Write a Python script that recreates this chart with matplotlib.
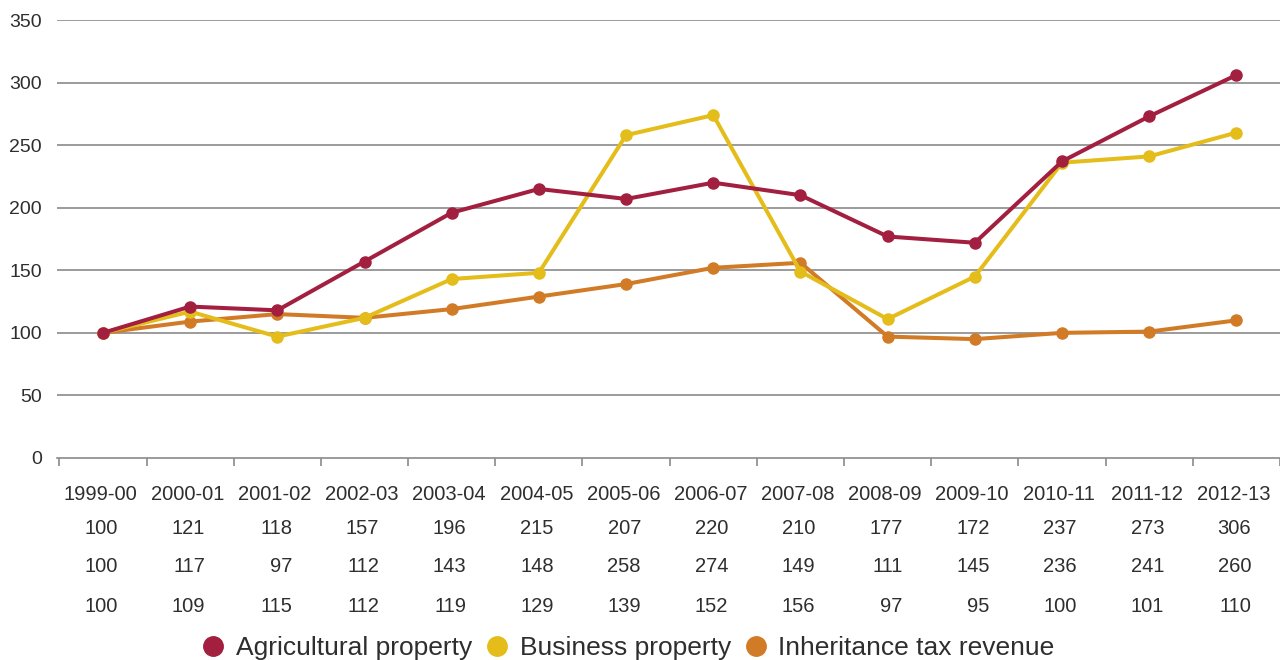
import matplotlib
matplotlib.use("Agg")
import matplotlib.pyplot as plt
from matplotlib.lines import Line2D

years = ["1999-00", "2000-01", "2001-02", "2002-03", "2003-04", "2004-05", "2005-06",
         "2006-07", "2007-08", "2008-09", "2009-10", "2010-11", "2011-12", "2012-13"]
agricultural = [100, 121, 118, 157, 196, 215, 207, 220, 210, 177, 172, 237, 273, 306]
business = [100, 117, 97, 112, 143, 148, 258, 274, 149, 111, 145, 236, 241, 260]
inheritance = [100, 109, 115, 112, 119, 129, 139, 152, 156, 97, 95, 100, 101, 110]
series_names = ["Agricultural property", "Business property", "Inheritance tax revenue"]
colors = ["#A31F40", "#E4BD1B", "#D27B27"]
yticks = [0, 50, 100, 150, 200, 250, 300, 350]

plt.rcParams['font.family'] = ['Liberation Sans', 'DejaVu Sans']
text_color = "#2e2e2e"

W, H = 1280, 660
fig = plt.figure(figsize=(W / 100, H / 100), dpi=100)
left, right, top, bottom = 57, 1280, 20, 458
ax = fig.add_axes([left / W, 1 - bottom / H, (right - left) / W, (bottom - top) / H])

n = len(years)
x = list(range(n))
for vals, c, z in [(inheritance, colors[2], 3), (business, colors[1], 4), (agricultural, colors[0], 5)]:
    ax.plot(x, vals, color=c, lw=2.9, marker='o', ms=8, zorder=z, solid_capstyle='round')

ax.set_xlim(-0.527, 13.49)
ax.set_ylim(0, 350)
ax.set_yticks(yticks)
ax.set_yticklabels([str(v) for v in yticks], fontsize=14, color=text_color)
ax.tick_params(axis='y', length=0, pad=11)
for v in yticks[1:]:
    ax.axhline(v, color="#8a8a8a", lw=1.2, zorder=1)
for s in ['top', 'right', 'left']:
    ax.spines[s].set_visible(False)
ax.spines['bottom'].set_color("#8a8a8a")
ax.spines['bottom'].set_linewidth(1.2)
ax.set_xticks([i - 0.5 for i in range(n + 1)])
ax.set_xticklabels([])
ax.tick_params(axis='x', direction='out', length=6, width=1.2, color="#8a8a8a")

tr = ax.get_xaxis_transform()
hpx = bottom - top
def ay(ypx):
    return (bottom - ypx) / hpx

for i, yr in enumerate(years):
    ax.text(i - 0.03, ay(495), yr, transform=tr, ha='center', va='center', fontsize=14.5, color=text_color)
rows = [(agricultural, 528), (business, 567), (inheritance, 606)]
for vals, ypx in rows:
    for i, v in enumerate(vals):
        ax.text(i + 0.17, ay(ypx), str(v), transform=tr, ha='right', va='center', fontsize=14.5, color=text_color)

handles = [Line2D([], [], ls='none', marker='o', ms=14, color=c) for c in colors]
leg = fig.legend(handles, series_names, loc='center', bbox_to_anchor=(626 / W, 1 - 648 / H),
                 ncol=3, frameon=False, fontsize=19, handletextpad=0.25, columnspacing=0.35,
                 handlelength=1.2, borderpad=0)
for t in leg.get_texts():
    t.set_color(text_color)

fig.savefig("out.png", dpi=100)
